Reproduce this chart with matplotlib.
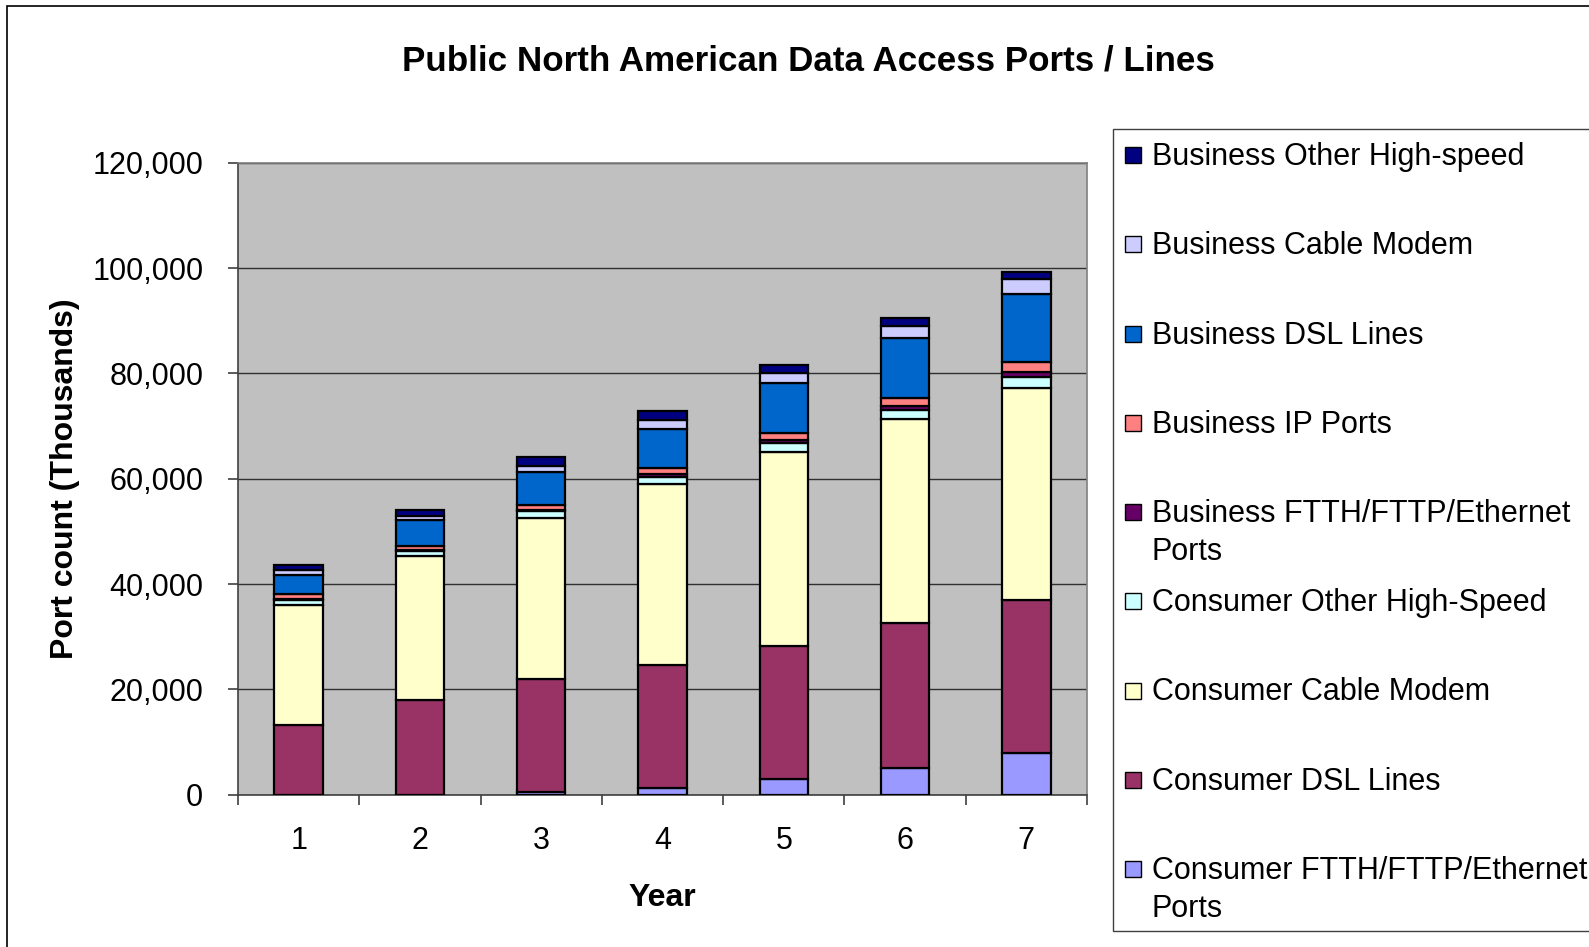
import numpy as np
import matplotlib
matplotlib.use("Agg")
import matplotlib.pyplot as plt
from matplotlib.patches import Rectangle
from matplotlib.ticker import FuncFormatter, MultipleLocator, FixedLocator

plt.rcParams['font.family'] = ['Liberation Sans', 'DejaVu Sans']

years = ["1", "2", "3", "4", "5", "6", "7"]

# port counts in thousands, listed bottom of the stack first
consumer_ftth = [0, 0, 400, 1300, 3000, 5000, 7800]
consumer_dsl = [13200, 17900, 21500, 23300, 25300, 27500, 29200]
consumer_cable = [22900, 27400, 30700, 34400, 36800, 38900, 40200]
consumer_other = [900, 900, 1200, 1300, 1600, 1700, 2200]
business_ftth = [200, 200, 300, 600, 700, 700, 800]
business_ip = [900, 800, 1000, 1200, 1200, 1600, 2000]
business_dsl = [3600, 4900, 6100, 7300, 9600, 11400, 12900]
business_cable = [900, 900, 1300, 1800, 1900, 2200, 2800]
business_other = [1000, 1100, 1600, 1600, 1500, 1600, 1400]

series = [
    ("Consumer FTTH/FTTP/Ethernet\nPorts", consumer_ftth, "#9999FF"),
    ("Consumer DSL Lines", consumer_dsl, "#993366"),
    ("Consumer Cable Modem", consumer_cable, "#FFFFCC"),
    ("Consumer Other High-Speed", consumer_other, "#CCFFFF"),
    ("Business FTTH/FTTP/Ethernet\nPorts", business_ftth, "#660066"),
    ("Business IP Ports", business_ip, "#FF8080"),
    ("Business DSL Lines", business_dsl, "#0066CC"),
    ("Business Cable Modem", business_cable, "#CCCCFF"),
    ("Business Other High-speed", business_other, "#000080"),
]

W, H = 1589, 947
fig = plt.figure(figsize=(W / 100, H / 100), dpi=100)
ax = fig.add_axes([238 / W, 1 - 794.5 / H, (1087 - 238) / W, (794.5 - 163) / H])
ax.set_facecolor("#C0C0C0")

x = np.arange(len(years))
bottom = np.zeros(len(years))
for name, vals, col in series:
    vals = np.array(vals, dtype=float)
    ax.bar(x, vals, 0.4, bottom=bottom, color=col, edgecolor="black",
           linewidth=1.6, zorder=3)
    bottom += vals

ax.set_xlim(-0.5, len(years) - 0.5)
ax.set_ylim(0, 120000)
ax.yaxis.set_major_locator(MultipleLocator(20000))
ax.yaxis.set_major_formatter(FuncFormatter(lambda v, p: f"{int(v):,}"))
ax.grid(axis="y", color="#303030", linewidth=1.0, zorder=1)

ax.set_xticks(x)
ax.set_xticklabels(years)
ax.xaxis.set_minor_locator(FixedLocator(np.arange(len(years) + 1) - 0.5))
ax.tick_params(axis="x", which="major", length=0, pad=23, labelsize=22)
ax.tick_params(axis="x", which="minor", length=7, width=1.2, color="#404040", direction="out")
ax.tick_params(axis="y", length=7, width=1.2, color="#404040", pad=18, labelsize=22)

for side in ["top", "right"]:
    ax.spines[side].set_color("#808080")
    ax.spines[side].set_linewidth(1.2)
for side in ["left", "bottom"]:
    ax.spines[side].set_color("#404040")
    ax.spines[side].set_linewidth(1.2)

ax.set_xlabel("Year", fontsize=23, fontweight="bold", labelpad=19)
ax.set_ylabel("Port count (Thousands)", fontsize=23, fontweight="bold", labelpad=9)

fig.text(808 / W, 1 - 61 / H, "Public North American Data Access Ports / Lines",
         fontsize=25.2, fontweight="bold", ha="center", va="center")

# outer chart frame
fig.add_artist(Rectangle((7 / W, -0.05), 1.2, 1.05 - 6 / H, transform=fig.transFigure,
                         facecolor="none", edgecolor="black", linewidth=1.2))

# legend box, top series first
fig.add_artist(Rectangle((1113 / W, 1 - 931 / H), 0.5, (931 - 129) / H,
                         transform=fig.transFigure, facecolor="white",
                         edgecolor="#404040", linewidth=1.0))
row_y = [154, 243, 332.6, 421.8, 511, 600, 689.5, 778.7, 868]
for yy, (name, vals, col) in zip(row_y, series[::-1]):
    fig.add_artist(Rectangle((1125 / W, 1 - (yy + 9) / H), 16 / W, 16 / H,
                             transform=fig.transFigure, facecolor=col,
                             edgecolor="black", linewidth=1.0))
    fig.text(1152 / W, 1 - (yy - 12) / H, name, fontsize=22, ha="left",
             va="top", linespacing=1.33)

fig.savefig("out.png", dpi=100)
